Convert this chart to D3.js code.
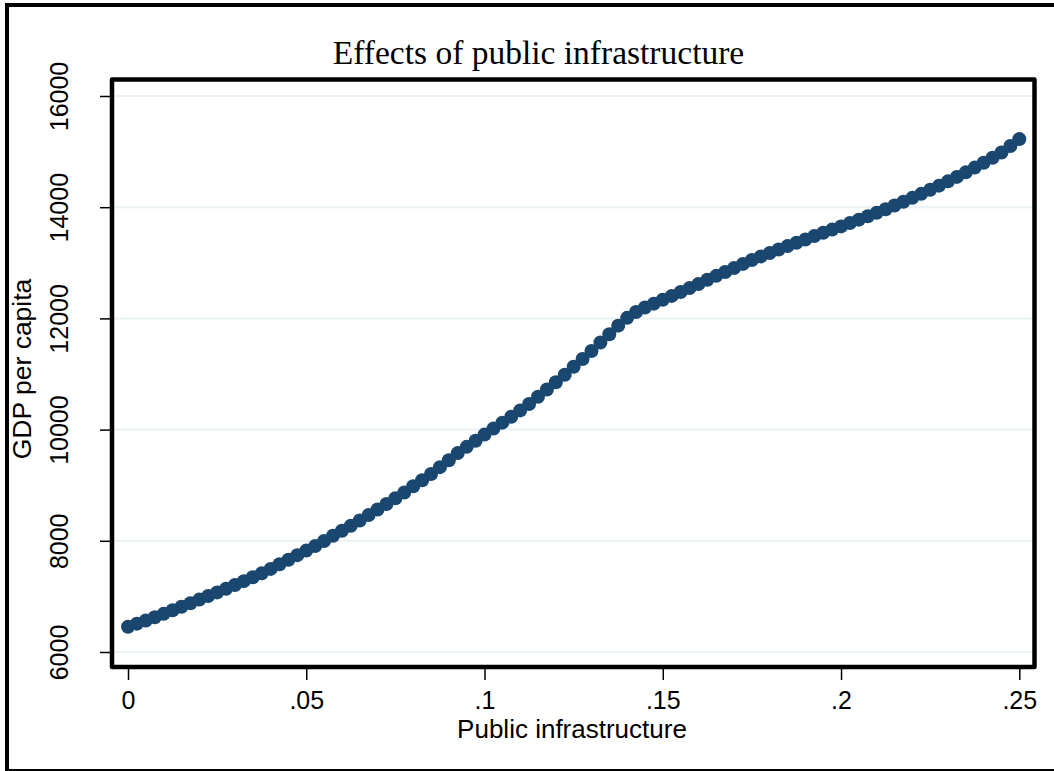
<!DOCTYPE html>
<html>
<head>
<meta charset="utf-8">
<script src="https://cdn.jsdelivr.net/npm/d3@7"></script>
<style>
  html, body { margin: 0; padding: 0; background: #ffffff; }
  svg { display: block; }
</style>
</head>
<body>
<svg id="chart" width="1054" height="771"></svg>
<script>
// Public infrastructure share (x) and predicted GDP per capita (y)
const infraStep = 0.0025;
const gdpPerCapita = [
  6455, 6510, 6566, 6624, 6686, 6750, 6815, 6878, 6942, 7007,
  7072, 7138, 7205, 7274, 7344, 7415, 7495, 7577, 7660, 7742,
  7824, 7906, 7997, 8090, 8180, 8272, 8366, 8463, 8562, 8663,
  8766, 8870, 8980, 9090, 9202, 9325, 9450, 9577, 9690, 9800,
  9910, 10018, 10125, 10232, 10345, 10460, 10590, 10720, 10852, 10987,
  11130, 11270, 11415, 11567, 11715, 11870, 12010, 12115, 12195, 12265,
  12335, 12405, 12475, 12545, 12620, 12695, 12765, 12835, 12905, 12980,
  13050, 13115, 13175, 13240, 13300, 13360, 13420, 13480, 13540, 13597,
  13655, 13715, 13776, 13838, 13900, 13963, 14030, 14098, 14168, 14240,
  14313, 14388, 14465, 14545, 14627, 14712, 14800, 14890, 14985, 15100,
  15225
];
const infrastructure = gdpPerCapita.map((_, i) => +(i * infraStep).toFixed(4));

const xTicks = [0, 0.05, 0.1, 0.15, 0.2, 0.25];
const xTickLabels = ["0", ".05", ".1", ".15", ".2", ".25"];
const yTicks = [6000, 8000, 10000, 12000, 14000, 16000];
const yTickLabels = ["6000", "8000", "10000", "12000", "14000", "16000"];

const titleText = "Effects of public infrastructure";
const xTitle = "Public infrastructure";
const yTitle = "GDP per capita";

const svg = d3.select("#chart");
const sans = "'Liberation Sans', Arial, sans-serif";
const serif = "'Liberation Serif', 'Times New Roman', serif";

// plot frame (centre of stroke)
const frame = { left: 112, top: 79.5, right: 1034.5, bottom: 667 };

const x = d3.scaleLinear().domain([0, 0.25]).range([128, 1019.3]);
const y = d3.scaleLinear().domain([6000, 16000]).range([652, 96]);

// outer graph region border
svg.append("rect")
  .attr("x", 7).attr("y", 5)
  .attr("width", 1100).attr("height", 766)
  .attr("fill", "#ffffff")
  .attr("stroke", "#000").attr("stroke-width", 4);

// plot area background
svg.append("rect")
  .attr("x", frame.left).attr("y", frame.top)
  .attr("width", frame.right - frame.left)
  .attr("height", frame.bottom - frame.top)
  .attr("fill", "#ffffff");

// horizontal gridlines
svg.append("g").selectAll("line")
  .data(yTicks).join("line")
  .attr("x1", frame.left).attr("x2", frame.right + 1.5)
  .attr("y1", d => y(d)).attr("y2", d => y(d))
  .attr("stroke", "#eaf2f3").attr("stroke-width", 2);

// y axis ticks and labels
const yAxis = d3.axisLeft(y).tickValues(yTicks)
  .tickFormat((d, i) => yTickLabels[i]).tickSize(12).tickPadding(0);
const gy = svg.append("g").attr("transform", `translate(${frame.left},0)`).call(yAxis);
gy.select(".domain").remove();
gy.selectAll(".tick line").attr("stroke", "#000").attr("stroke-width", 1.5);
gy.selectAll(".tick text")
  .attr("x", null).attr("dy", null)
  .attr("transform", "translate(-44,0) rotate(-90)")
  .attr("text-anchor", "middle")
  .attr("fill", "#000")
  .style("font-family", sans).style("font-size", "25px");

// x axis ticks and labels
const xAxis = d3.axisBottom(x).tickValues(xTicks)
  .tickFormat((d, i) => xTickLabels[i]).tickSize(13).tickPadding(0);
const gx = svg.append("g").attr("transform", `translate(0,${frame.bottom})`).call(xAxis);
gx.select(".domain").remove();
gx.selectAll(".tick line").attr("stroke", "#000").attr("stroke-width", 1.5);
gx.selectAll(".tick text")
  .attr("y", 42).attr("dy", null)
  .attr("fill", "#000")
  .style("font-family", sans).style("font-size", "25px");

// data markers
svg.append("g").selectAll("circle")
  .data(gdpPerCapita).join("circle")
  .attr("cx", (d, i) => x(infrastructure[i]))
  .attr("cy", d => y(d))
  .attr("r", 7)
  .attr("fill", "#1a476f");

// plot frame
svg.append("rect")
  .attr("x", frame.left).attr("y", frame.top)
  .attr("width", frame.right - frame.left)
  .attr("height", frame.bottom - frame.top)
  .attr("fill", "none")
  .attr("stroke", "#000").attr("stroke-width", 4.5)
  .attr("stroke-linejoin", "round");

// title
svg.append("text")
  .attr("x", 538.5).attr("y", 64)
  .attr("text-anchor", "middle")
  .attr("fill", "#000")
  .style("font-family", serif).style("font-size", "33.5px")
  .text(titleText);

// axis titles
svg.append("text")
  .attr("x", 572).attr("y", 738)
  .attr("text-anchor", "middle")
  .attr("fill", "#000")
  .style("font-family", sans).style("font-size", "26px")
  .text(xTitle);

svg.append("text")
  .attr("transform", "translate(31,369) rotate(-90)")
  .attr("text-anchor", "middle")
  .attr("fill", "#000")
  .style("font-family", sans).style("font-size", "26.5px")
  .text(yTitle);
</script>
</body>
</html>
